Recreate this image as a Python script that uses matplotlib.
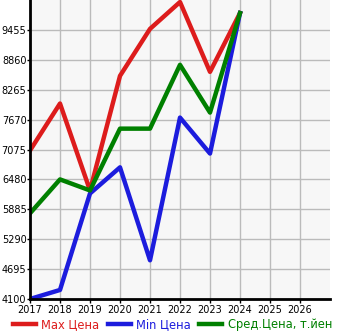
import matplotlib.pyplot as plt

years = [2017, 2018, 2019, 2020, 2021, 2022, 2023, 2024]
max_price = [7055, 7990, 6260, 8540, 9475, 10010, 8620, 9790]
min_price = [4100, 4280, 6200, 6720, 4870, 7710, 6995, 9790]
avg_price = [5805, 6480, 6260, 7490, 7490, 8760, 7810, 9790]

y_ticks = [4100, 4695, 5290, 5885, 6480, 7075, 7670, 8265, 8860, 9455]
x_ticks = list(range(2017, 2027))

fig = plt.figure(figsize=(3.45, 3.35), dpi=100)
ax = fig.add_axes([30 / 345, 1 - 299 / 335, 300 / 345, 299 / 335])
ax.set_facecolor('#f7f7f7')

ax.plot(years, max_price, color='#dd1c1c', lw=3.2, label='Max Цена')
ax.plot(years, min_price, color='#1c1cdd', lw=3.2, label='Min Цена')
ax.plot(years, avg_price, color='#008000', lw=3.2, label='Сред.Цена, т.йен')

ax.set_xlim(2017, 2027)
ax.set_ylim(4100, 10050)
ax.set_xticks(x_ticks)
ax.set_yticks(y_ticks)
ax.tick_params(axis='x', labelsize=7, length=3, width=1, pad=1)
ax.tick_params(axis='y', labelsize=7, length=2, width=1, pad=0.5)
ax.grid(True, color='#bbbbbb', lw=1)
ax.set_axisbelow(True)
for s in ['top', 'right']:
    ax.spines[s].set_visible(False)
for s in ['left', 'bottom']:
    ax.spines[s].set_linewidth(2)

leg = fig.legend(loc='lower center', bbox_to_anchor=(0.5, -0.02), ncol=3, frameon=False,
                 fontsize=8.3, handlelength=2.0, columnspacing=0.7, handletextpad=0.5)
for text, line in zip(leg.get_texts(), leg.get_lines()):
    text.set_color(line.get_color())

fig.savefig('out.png', dpi=100)
